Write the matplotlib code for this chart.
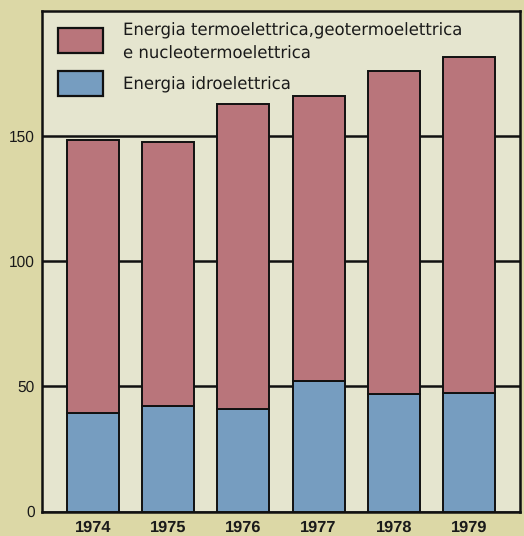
import os
import matplotlib
matplotlib.use("Agg")
import matplotlib.pyplot as plt
from matplotlib.patches import Rectangle
from matplotlib.font_manager import FontProperties

plt.rcParams['font.family'] = ['Liberation Sans', 'DejaVu Sans']
plt.rcParams['text.hinting'] = 'none'

years = ["1974", "1975", "1976", "1977", "1978", "1979"]
hydro = [39.5, 42.3, 40.8, 52.1, 46.8, 47.5]
total = [148.4, 147.5, 162.7, 166.0, 176.0, 181.7]
thermo = [t - h for t, h in zip(total, hydro)]

label_thermo = "Energia termoelettrica,geotermoelettrica\ne nucleotermoelettrica"
label_hydro = "Energia idroelettrica"

red = "#b9757b"
blue = "#769dc0"
paper = "#dcd8a6"
panel = "#e5e5cf"

fig = plt.figure(figsize=(5.24, 5.36), dpi=100, facecolor=paper)
ax = fig.add_axes([42 / 524, 1 - 511.5 / 536, 478 / 524, 500.5 / 536])
ax.set_facecolor(panel)

x = list(range(len(years)))
ax.bar(x, hydro, width=0.69, color=blue, edgecolor="#111111", linewidth=1.4, zorder=3)
ax.bar(x, thermo, bottom=hydro, width=0.69, color=red, edgecolor="#111111", linewidth=1.4, zorder=3)

ax.set_xlim(-0.675, 5.675)
ax.set_ylim(0, 200)
ax.set_yticks([0, 50, 100, 150])
ax.set_yticklabels(["0", "50", "100", "150"], fontsize=11.2)
ax.set_xticks(x)
ax.set_xticklabels(years, fontsize=11.8, fontweight="bold")
ax.tick_params(axis="y", length=0, pad=5)
ax.tick_params(axis="x", length=0, pad=6)
for tl in ax.get_xticklabels() + ax.get_yticklabels():
    tl.set_color("#1a1a1a")

ax.yaxis.grid(True, color="#111111", linewidth=1.8, zorder=1)
ax.set_axisbelow(True)
for s in ax.spines.values():
    s.set_color("#111111")
    s.set_linewidth(1.8)

# legend key boxes and labels
W, H = 478.0, 500.5
def box(px, py, pw, ph, color):
    ax.add_patch(Rectangle(((px - 42) / W, (511.5 - py - ph) / H), pw / W, ph / H,
                           transform=ax.transAxes, facecolor=color,
                           edgecolor="#111111", linewidth=1.6, zorder=5))

box(58, 28, 45, 25, red)
box(58, 71, 45, 25, blue)

# regular-width DejaVu Sans from matplotlib's bundled fonts
legend_fp = FontProperties(fname=os.path.join(matplotlib.get_data_path(), "fonts", "ttf", "DejaVuSans.ttf"),
                           size=11.9)
ax.text((123 - 42) / W, (511.5 - 23) / H, label_thermo, transform=ax.transAxes,
        ha="left", va="top", linespacing=1.5, zorder=6, color="#1a1a1a", fontproperties=legend_fp)
ax.text((123 - 42) / W, (511.5 - 77) / H, label_hydro, transform=ax.transAxes,
        ha="left", va="top", zorder=6, color="#1a1a1a", fontproperties=legend_fp)

fig.savefig("out.png", dpi=100, facecolor=paper)
